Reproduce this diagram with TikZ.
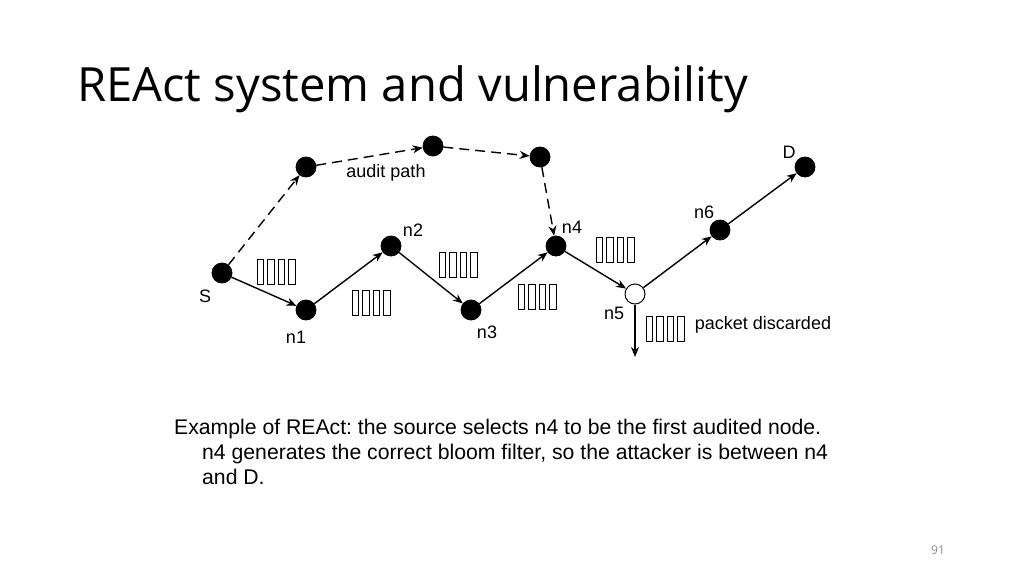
\documentclass[tikz,border=0pt]{standalone}
\usepackage{fontspec}
\setmainfont{Liberation Sans}
\newfontfamily\titlefont{Open Sans}
\usetikzlibrary{arrows.meta}
\definecolor{pgnum}{HTML}{8A8A8A}
\frenchspacing
\tikzset{
  dot/.style={circle,fill=black,draw=black,line width=0.8pt,minimum size=20pt,inner sep=0pt},
  odot/.style={circle,fill=white,draw=black,line width=1pt,minimum size=20pt,inner sep=0pt},
  link/.style={line width=1.4pt,-{Stealth[length=10pt,width=8pt]}},
  dlink/.style={link,dash pattern=on 10pt off 6pt},
  lbl/.style={font=\fontsize{18}{20}\selectfont,inner sep=0pt},
  captext/.style={anchor=base west,inner sep=0pt,font=\fontsize{21.2}{25}\selectfont},
  pkt/.pic={\foreach \i in {0,1,2,3}{\draw[line width=1pt] (\i*10.5,0) rectangle ++(6.5,25);}}
}
\begin{document}
\begin{tikzpicture}[x=1pt,y=-1pt]
\useasboundingbox (0,0) rectangle (1024,575);
\node[anchor=base west,inner sep=0pt,font=\titlefont\fontsize{47.2}{50}\selectfont] (title) at (77,102) {REAct system and vulnerability};
% nodes
\node[dot] (S) at (222,273) {};
\node[dot] (n1) at (306,310) {};
\node[dot] (n2) at (391,246) {};
\node[dot] (n3) at (471,310) {};
\node[dot] (n4) at (556,246) {};
\node[odot] (n5) at (635,294) {};
\node[dot] (n6) at (720,230) {};
\node[dot] (D) at (805,167) {};
\node[dot] (a1) at (306,167) {};
\node[dot] (a2) at (433,146) {};
\node[dot] (a3) at (540,157) {};
\coordinate (drop) at (635,357);
% links
\draw[link] (S) -- (n1);
\draw[link] (n1) -- (n2);
\draw[link] (n2) -- (n3);
\draw[link] (n3) -- (n4);
\draw[link] (n4) -- (n5);
\draw[link] (n5) -- (n6);
\draw[link] (n6) -- (D);
\draw[link] (n5) -- (drop);
\draw[dlink] (S) -- (a1);
\draw[dlink] (a1) -- (a2);
\draw[dlink] (a2) -- (a3);
\draw[dlink] (a3) -- (n4);
% packets
\pic at (257,259) {pkt};
\pic at (352,290) {pkt};
\pic at (439,252) {pkt};
\pic at (518,284) {pkt};
\pic at (596,237) {pkt};
\pic at (646,316) {pkt};
% labels
\node[lbl] (lS) at (205,296) {S};
\node[lbl] (l1) at (296,337) {n1};
\node[lbl] (l2) at (413,230) {n2};
\node[lbl] (l3) at (487,332) {n3};
\node[lbl] (l4) at (572,227) {n4};
\node[lbl] (l5) at (614,313) {n5};
\node[lbl] (l6) at (704,212) {n6};
\node[lbl] (lD) at (789,152) {D};
\node[lbl] (lap) at (386,173) {audit path};
\node[lbl] (lpd) at (763,325) {packet discarded};
% caption
\node[captext] (c1) at (174,434) {Example of REAct: the source selects n4 to be the first audited node.};
\node[captext] (c2) at (202,459) {n4 generates the correct bloom filter, so the attacker is between n4};
\node[captext] (c3) at (202,484) {and D.};
\node[anchor=base,inner sep=0pt,text=pgnum,font=\titlefont\fontsize{12}{14}\selectfont] (pg) at (938,554) {91};
\end{tikzpicture}
\end{document}
